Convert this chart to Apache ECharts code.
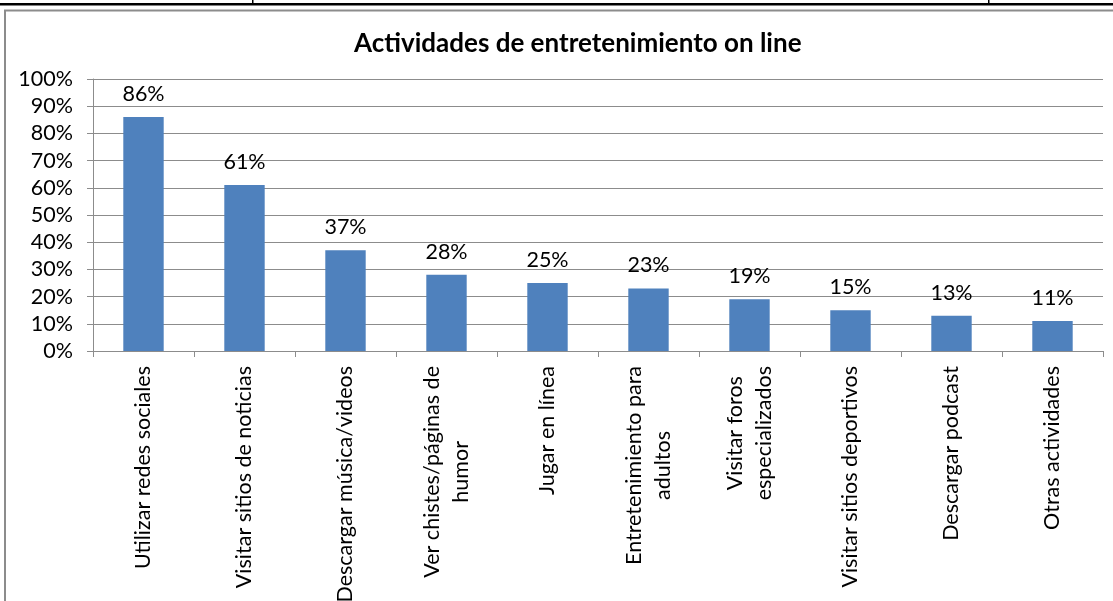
<!DOCTYPE html>
<html>
<head>
<meta charset="utf-8">
<script src="https://cdn.jsdelivr.net/npm/echarts@6/dist/echarts.min.js"></script>
<style>
html,body{margin:0;padding:0;background:#fff;}
#main{width:1113px;height:601px;}
</style>
</head>
<body>
<div id="main"></div>
<script>
const title = 'Actividades de entretenimiento on line';
const categories = [
  'Utilizar redes sociales',
  'Visitar sitios de noticias',
  'Descargar música/videos',
  'Ver chistes/páginas de\nhumor',
  'Jugar en línea',
  'Entretenimiento para\nadultos',
  'Visitar foros\nespecializados',
  'Visitar sitios deportivos',
  'Descargar podcast',
  'Otras actividades'
];
const values = [86, 61, 37, 28, 25, 23, 19, 15, 13, 11];
const yMin = 0, yMax = 100, yStep = 10;

const FONT = 'Lato';
const FS = 21.5;
const chart = echarts.init(document.getElementById('main'));
chart.setOption({
  animation: false,
  backgroundColor: '#fff',
  title: {
    text: title,
    left: 349,
    top: 26,
    textStyle: {fontFamily: FONT, fontSize: 26, fontWeight: 'bold', color: '#000'}
  },
  graphic: [
    {type: 'rect', silent: true, shape: {x: 0, y: 3, width: 1113, height: 2.5}, style: {fill: '#000'}},
    {type: 'rect', silent: true, shape: {x: 252, y: 0, width: 1.5, height: 4}, style: {fill: '#000'}},
    {type: 'rect', silent: true, shape: {x: 988, y: 0, width: 1.5, height: 4}, style: {fill: '#000'}},
    {type: 'rect', silent: true, shape: {x: 5, y: 10.5, width: 1300, height: 800}, style: {fill: 'none', stroke: '#8c8c8c', lineWidth: 2}}
  ],
  grid: {left: 93, right: 10, top: 79, bottom: 250, containLabel: false, outerBoundsMode: 'none'},
  xAxis: {
    type: 'category',
    data: categories,
    axisLine: {lineStyle: {color: '#8c8c8c', width: 1}},
    axisTick: {show: true, length: 6, lineStyle: {color: '#8c8c8c'}},
    axisLabel: {
      rotate: 90,
      interval: 0,
      margin: 15,
      color: '#000',
      fontFamily: FONT,
      fontSize: FS,
      formatter: v => v.split('\n').map(l => '{c|' + l + '}').join('\n'),
      rich: {c: {align: 'center', fontFamily: FONT, fontSize: FS, lineHeight: 29, color: '#000'}}
    }
  },
  yAxis: {
    type: 'value',
    min: yMin, max: yMax, interval: yStep,
    axisLine: {show: true, lineStyle: {color: '#8c8c8c', width: 1}},
    axisTick: {show: true, length: 6, lineStyle: {color: '#8c8c8c'}},
    splitLine: {show: true, lineStyle: {color: '#8c8c8c', width: 1}},
    axisLabel: {
      margin: 20,
      color: '#000',
      fontFamily: FONT,
      fontSize: FS,
      formatter: '{value}%'
    }
  },
  series: [{
    type: 'bar',
    data: values,
    barWidth: '40%',
    itemStyle: {color: '#4F81BD'},
    label: {
      show: true,
      position: 'top',
      distance: 12,
      color: '#000',
      fontFamily: FONT,
      fontSize: FS,
      formatter: '{c}%'
    }
  }]
});
</script>
</body>
</html>
